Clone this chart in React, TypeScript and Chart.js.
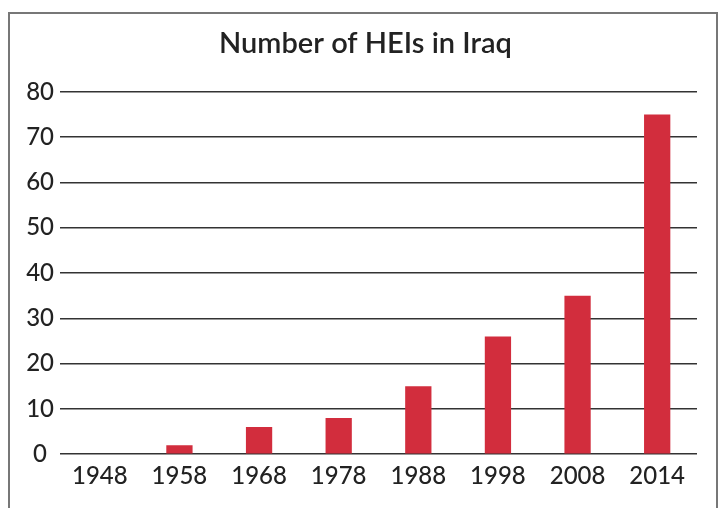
import React, { useEffect, useRef } from "react";
import { Chart, registerables } from "chart.js";

Chart.register(...registerables);

const categories = ["1948", "1958", "1968", "1978", "1988", "1998", "2008", "2014"];
const heiCounts = [0, 2, 6, 8, 15, 26, 35, 75];
const chartTitle = "Number of HEIs in Iraq";

export default function App() {
  const canvasRef = useRef<HTMLCanvasElement | null>(null);

  useEffect(() => {
    document.body.style.margin = "0";
    const canvas = canvasRef.current;
    if (!canvas) return;
    const chart = new Chart(canvas, {
      type: "bar",
      data: {
        labels: categories,
        datasets: [
          {
            label: "HEIs",
            data: heiCounts,
            backgroundColor: "#d22d3d",
            borderWidth: 0,
            categoryPercentage: 1,
            barPercentage: 0.33,
            yAxisID: "y",
          },
        ],
      },
      options: {
        animation: false,
        responsive: false,
        devicePixelRatio: 1,
        layout: { padding: { left: 10, right: 0, top: 0, bottom: 9 } },
        plugins: {
          legend: { display: false },
          tooltip: { enabled: false },
          title: {
            display: true,
            text: chartTitle,
            color: "#222",
            font: { family: "Lato", size: 29, weight: "600" },
            padding: { top: 26, bottom: 31 },
          },
        },
        scales: {
          x: {
            grid: { display: false, drawTicks: false },
            border: { display: false },
            ticks: {
              color: "#222",
              font: { family: "Lato", size: 24, weight: "500" },
              padding: 8,
              maxRotation: 0,
            },
          },
          y: {
            min: 0,
            max: 80,
            grid: { color: "#333", lineWidth: 1.5, drawTicks: false },
            border: { display: false },
            ticks: {
              stepSize: 10,
              color: "#222",
              crossAlign: "center",
              padding: 6,
              font: { family: "Lato", size: 24, weight: "500" },
            },
            afterFit: (scale: any) => {
              scale.width = 50;
            },
          },
          yRight: {
            position: "right",
            min: 0,
            max: 80,
            grid: { display: false, drawTicks: false },
            border: { display: false },
            ticks: { display: false },
            afterFit: (scale: any) => {
              scale.width = 24;
            },
          },
        },
      },
    });
    return () => chart.destroy();
  }, []);

  return (
    <div
      style={{
        position: "fixed",
        left: 0,
        top: 0,
        width: 721,
        height: 508,
        overflow: "hidden",
        background: "#fff",
      }}
    >
      <canvas
        ref={canvasRef}
        width={721}
        height={508}
        style={{ position: "absolute", left: 0, top: 0, width: 721, height: 508 }}
      />
      <div
        style={{
          position: "absolute",
          left: 8,
          top: 12,
          width: 706,
          height: 600,
          border: "2px solid #777",
          pointerEvents: "none",
        }}
      />
    </div>
  );
}
